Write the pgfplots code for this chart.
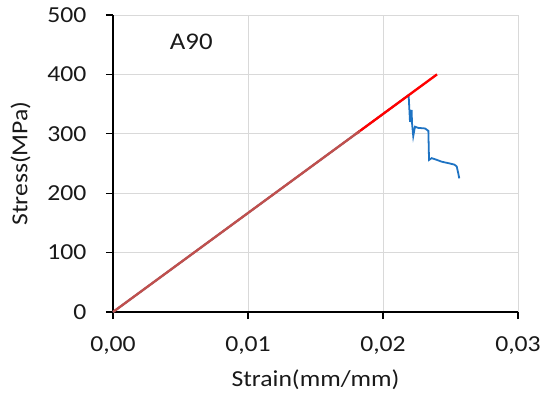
\documentclass[border=0pt]{standalone}
\usepackage{pgfplots}
\pgfplotsset{compat=1.18}
\usepackage{fontspec}
\setmainfont{Carlito}[FakeStretch=1.12]
\definecolor{exblue}{RGB}{30,115,195}
\definecolor{exred}{RGB}{255,0,0}
\definecolor{mixred}{RGB}{192,80,77}
\definecolor{gridgray}{RGB}{217,217,217}
\begin{document}
\begin{tikzpicture}[x=1bp,y=1bp]
\useasboundingbox (-113bp,-84bp) rectangle (429bp,312bp);
\begin{axis}[
  scale only axis,
  width=405bp, height=297bp,
  xmin=0, xmax=0.03, ymin=0, ymax=500,
  scaled x ticks=false,
  xtick={0,0.01,0.02,0.03},
  xticklabels={{0,00},{0,01},{0,02},{0,03}},
  ytick={0,100,200,300,400,500},
  yticklabels={0,100,200,300,400,500},
  /pgf/number format/assume math mode=true,
  axis x line*=bottom, axis y line*=left,
  axis line style={black, line width=1.6pt, -},
  tick style={black, line width=1.4pt},
  tick align=outside,
  major tick length=7bp,
  grid=major,
  major grid style={gridgray, line width=0.9pt},
  ticklabel style={font=\fontsize{23}{26}\selectfont, text=black!90},
  label style={font=\fontsize{23}{26}\selectfont, text=black!90},
  xlabel={Strain(mm/mm)},
  ylabel={Stress(MPa)},
  xticklabel style={yshift=-14bp},
  yticklabel style={xshift=-16bp},
  xlabel style={yshift=-9bp},
  ylabel style={yshift=10bp},
  clip=false,
]
\addplot[exblue, line width=1.8pt] coordinates {
(0,0) (0.0183,305) (0.0219,365) (0.02200,320) (0.02212,340) (0.02215,318) (0.02224,296)
(0.02237,312) (0.02260,310) (0.02311,309) (0.02336,305) (0.02341,256) (0.02361,259)
(0.02400,256) (0.02435,253) (0.02496,250) (0.02530,248) (0.02546,245) (0.02558,233) (0.02565,225)
};
\addplot[exred, line width=2.4pt] coordinates {(0.0180,300) (0.0240,400)};
\addplot[mixred, line width=2.4pt] coordinates {(0,0) (0.0183,305)};
\node[font=\fontsize{24}{28}\selectfont, text=black!90] at (axis cs:0.0058,455) {A90};
\end{axis}
\end{tikzpicture}
\end{document}
